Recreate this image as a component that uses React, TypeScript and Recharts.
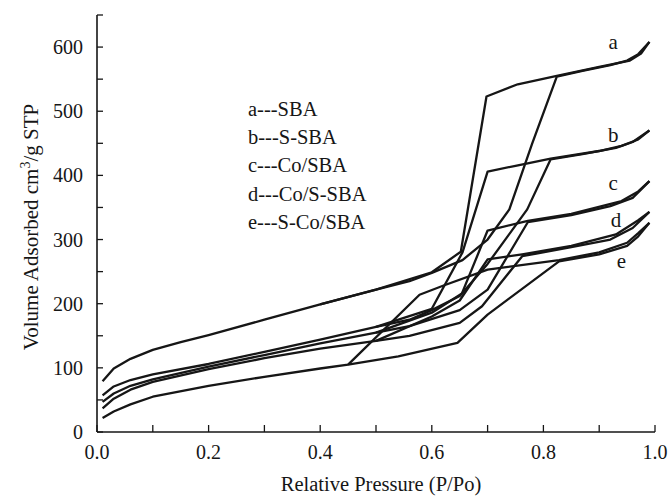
import React from "react"
import { LineChart, Line, XAxis, YAxis, ReferenceDot } from "recharts"

// N2 isotherms, [P/Po, volume]
const aAds = [[0.01, 79], [0.03, 99], [0.06, 114], [0.1, 128], [0.15, 140], [0.2, 151], [0.3, 175], [0.4, 199], [0.5, 222], [0.56, 235], [0.6, 248], [0.655, 268], [0.7, 300], [0.739, 347], [0.78, 450], [0.824, 554], [0.87, 563], [0.92, 572], [0.95, 579], [0.97, 589], [0.99, 608]]
const aDes = [[0.99, 608], [0.975, 590], [0.955, 579], [0.9, 569], [0.824, 555], [0.754, 542], [0.698, 523], [0.652, 281], [0.6, 249], [0.5, 222], [0.4, 199]]

const bAds = [[0.01, 57], [0.03, 71], [0.06, 81], [0.1, 90], [0.2, 106], [0.3, 125], [0.4, 144], [0.5, 164], [0.56, 175], [0.6, 190], [0.65, 212], [0.7, 262], [0.771, 347], [0.813, 425], [0.87, 433], [0.93, 443], [0.96, 452], [0.99, 470]]
const bDes = [[0.99, 470], [0.97, 456], [0.94, 446], [0.9, 438], [0.813, 426], [0.75, 415], [0.7, 406], [0.655, 280], [0.6, 192], [0.5, 164]]

const cAds = [[0.01, 47], [0.03, 60], [0.06, 72], [0.1, 82], [0.2, 102], [0.3, 120], [0.4, 138], [0.5, 155], [0.56, 165], [0.65, 190], [0.7, 222], [0.772, 327], [0.85, 338], [0.92, 352], [0.96, 365], [0.99, 391]]
const cDes = [[0.99, 391], [0.97, 375], [0.94, 360], [0.85, 340], [0.772, 329], [0.7, 314], [0.654, 216], [0.6, 186], [0.5, 155]]

const dAds = [[0.01, 37], [0.03, 52], [0.06, 66], [0.1, 78], [0.2, 98], [0.3, 115], [0.4, 130], [0.5, 142], [0.56, 150], [0.65, 170], [0.69, 196], [0.762, 274], [0.85, 288], [0.92, 300], [0.96, 318], [0.99, 343]]
const dDes = [[0.99, 343], [0.97, 330], [0.93, 308], [0.85, 290], [0.762, 277], [0.7, 269], [0.65, 205], [0.6, 180], [0.5, 142]]

const eAds = [[0.01, 22], [0.03, 32], [0.06, 43], [0.1, 55], [0.2, 72], [0.3, 86], [0.4, 99], [0.45, 105], [0.54, 118], [0.646, 139], [0.7, 183], [0.828, 266], [0.9, 277], [0.95, 290], [0.97, 305], [0.99, 326]]
const eDes = [[0.99, 326], [0.97, 310], [0.95, 295], [0.9, 280], [0.828, 268], [0.7, 253], [0.62, 228], [0.578, 214], [0.45, 105]]

const xTicks = [0, 0.1, 0.2, 0.3, 0.4, 0.5, 0.6, 0.7, 0.8, 0.9, 1.0]
const yTicks = [0, 50, 100, 150, 200, 250, 300, 350, 400, 450, 500, 550, 600, 650]
const legendItems = ["a---SBA", "b---S-SBA", "c---Co/SBA", "d---Co/S-SBA", "e---S-Co/SBA"]
const curveLabels = [
  { name: "a", x: 0.925, y: 609 },
  { name: "b", x: 0.925, y: 464 },
  { name: "c", x: 0.925, y: 389 },
  { name: "d", x: 0.93, y: 331 },
  { name: "e", x: 0.94, y: 268 },
]

const series = [aAds, aDes, bAds, bDes, cAds, cDes, dAds, dDes, eAds, eDes]

const toPoints = (arr: number[][]) => arr.map(([x, y]) => ({ x, y }))

const font = "Liberation Serif, Times New Roman, Times, DejaVu Serif, serif"
const ink = "#161616"

export default function App() {
  return (
    <div style={{ position: "absolute", left: 0, top: 0, width: 669, height: 496, background: "#fff", fontFamily: font }}>
      <LineChart width={669} height={496} margin={{ top: 15, right: 14, bottom: 34, left: 37 }} style={{ fontFamily: font }}>
        <XAxis
          type="number"
          dataKey="x"
          domain={[0, 1]}
          ticks={xTicks}
          tickFormatter={(v: number) => (Math.round(v * 10) % 2 === 0 ? v.toFixed(1) : "")}
          tickSize={-7}
          tickMargin={20}
          height={30}
          axisLine={{ stroke: ink, strokeWidth: 1.6 }}
          tickLine={{ stroke: ink, strokeWidth: 1.3 }}
          tick={{ fill: ink, fontSize: 20, fontFamily: font }}
          allowDataOverflow
        />
        <XAxis xAxisId="top" orientation="top" type="number" domain={[0, 1]} height={0} tick={false} tickLine={false} axisLine={{ stroke: "#666", strokeWidth: 1.6 }} />
        <YAxis
          type="number"
          dataKey="y"
          domain={[0, 650]}
          ticks={yTicks}
          tickFormatter={(v: number) => (v % 100 === 0 && v <= 600 ? String(v) : "")}
          tickSize={-6}
          tickMargin={20}
          width={60}
          axisLine={{ stroke: ink, strokeWidth: 1.6 }}
          tickLine={{ stroke: ink, strokeWidth: 1.3 }}
          tick={{ fill: ink, fontSize: 20, fontFamily: font }}
          allowDataOverflow
        />
        <YAxis yAxisId="right" orientation="right" type="number" domain={[0, 650]} width={0} tick={false} tickLine={false} axisLine={{ stroke: "#666", strokeWidth: 1.6 }} />
        {series.map((s, i) => (
          <Line
            key={i}
            data={toPoints(s)}
            dataKey="y"
            type="linear"
            stroke={ink}
            strokeWidth={2.3}
            strokeLinejoin="round"
            dot={false}
            activeDot={false}
            isAnimationActive={false}
          />
        ))}
        {curveLabels.map((c) => (
          <ReferenceDot
            key={c.name}
            x={c.x}
            y={c.y}
            r={0}
            stroke="none"
            label={{ value: c.name, position: "center", fill: ink, fontSize: 21, fontFamily: font }}
          />
        ))}
      </LineChart>
      {legendItems.map((t, i) => (
        <div key={t} style={{ position: "absolute", left: 248, top: 97 + i * 28.2, fontSize: 20.5, lineHeight: "24px", color: ink, whiteSpace: "nowrap" }}>
          {t}
        </div>
      ))}
      <div style={{ position: "absolute", left: 381, top: 472, transform: "translateX(-50%)", fontSize: 20.5, lineHeight: "24px", color: ink, whiteSpace: "nowrap" }}>
        Relative Pressure (P/Po)
      </div>
      <div style={{ position: "absolute", left: 31, top: 227, transform: "translate(-50%, -50%) rotate(-90deg)", fontSize: 21, lineHeight: "24px", color: ink, whiteSpace: "nowrap" }}>
        Volume Adsorbed cm<sup style={{ fontSize: 14, lineHeight: 0 }}>3</sup>/g STP
      </div>
    </div>
  )
}
